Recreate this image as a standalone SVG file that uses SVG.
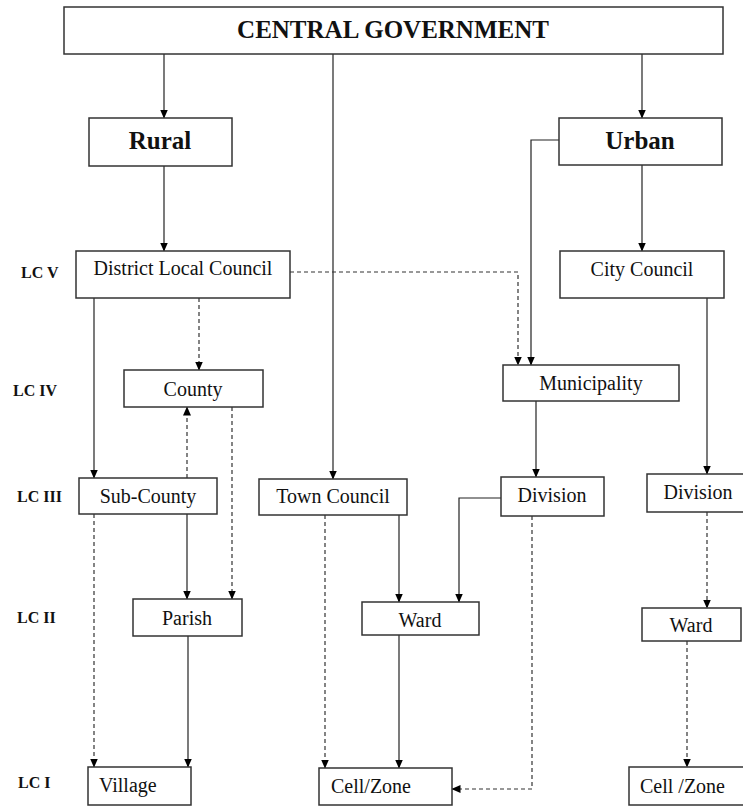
<svg xmlns="http://www.w3.org/2000/svg" width="743" height="807" viewBox="0 0 743 807">
<style>
.box{fill:#fff;stroke:#333;stroke-width:1.5}
.t{font-family:"Liberation Serif","Times New Roman",serif;font-size:20px;fill:#111}
.tb{font-family:"Liberation Serif","Times New Roman",serif;font-weight:bold;font-size:25px;fill:#111;text-anchor:middle}
.c{text-anchor:middle}
.lc{font-family:"Liberation Serif","Times New Roman",serif;font-weight:bold;font-size:16px;fill:#111}
.s{fill:none;stroke:#222;stroke-width:1.2}
.d{fill:none;stroke:#333;stroke-width:1.2;stroke-dasharray:4 3}
</style>
<defs>
<marker id="ah" markerWidth="9" markerHeight="8" refX="8.5" refY="4" orient="auto" markerUnits="userSpaceOnUse">
<path d="M0,0 L9,4 L0,8 z" fill="#000"/>
</marker>
</defs>
<rect width="743" height="807" fill="#fff"/>
<g id="lc-labels">
<text class="lc" x="21" y="278">LC V</text>
<text class="lc" x="13" y="396">LC IV</text>
<text class="lc" x="17" y="502">LC III</text>
<text class="lc" x="17" y="623">LC II</text>
<text class="lc" x="18" y="788">LC I</text>
</g>
<g id="connectors" marker-end="url(#ah)">
<path class="s" d="M164 54 V118"/>
<path class="s" d="M333 54 V479"/>
<path class="s" d="M642 54 V118"/>
<path class="s" d="M164 166 V251"/>
<path class="s" d="M559 140 H531 V365"/>
<path class="s" d="M642 165 V251"/>
<path class="d" d="M290 272 H518 V365"/>
<path class="d" d="M199 298 V370"/>
<path class="s" d="M94 298 V478"/>
<path class="d" d="M187 478 V407"/>
<path class="d" d="M232 407 V599"/>
<path class="s" d="M536 401 V477"/>
<path class="s" d="M707 298 V474"/>
<path class="s" d="M187 514 V599"/>
<path class="d" d="M94 514 V767"/>
<path class="d" d="M325 515 V768"/>
<path class="s" d="M399 515 V602"/>
<path class="s" d="M501 498 H459 V602"/>
<path class="d" d="M532 516 V789 H452"/>
<path class="d" d="M707 512 V608"/>
<path class="s" d="M188 636 V767"/>
<path class="s" d="M399 635 V768"/>
<path class="d" d="M687 641 V767"/>
</g>
<g id="central-government">
<rect class="box" x="64" y="7" width="659" height="47"/>
<text class="tb" x="393" y="38">CENTRAL GOVERNMENT</text>
</g>
<g id="rural">
<rect class="box" x="89" y="118" width="143" height="48"/>
<text class="tb" x="160" y="149">Rural</text>
</g>
<g id="urban">
<rect class="box" x="559" y="118" width="163" height="47"/>
<text class="tb" x="640" y="149">Urban</text>
</g>
<g id="district-local-council">
<rect class="box" x="76" y="251" width="214" height="47"/>
<text class="t c" x="183" y="275">District Local Council</text>
</g>
<g id="city-council">
<rect class="box" x="560" y="251" width="164" height="47"/>
<text class="t c" x="642" y="276">City Council</text>
</g>
<g id="county">
<rect class="box" x="124" y="370" width="139" height="37"/>
<text class="t c" x="193" y="396">County</text>
</g>
<g id="municipality">
<rect class="box" x="503" y="365" width="176" height="36"/>
<text class="t c" x="591" y="390">Municipality</text>
</g>
<g id="sub-county">
<rect class="box" x="79" y="478" width="138" height="36"/>
<text class="t c" x="148" y="503">Sub-County</text>
</g>
<g id="town-council">
<rect class="box" x="259" y="479" width="148" height="36"/>
<text class="t c" x="333" y="503">Town Council</text>
</g>
<g id="division-municipal">
<rect class="box" x="501" y="477" width="103" height="39"/>
<text class="t c" x="552" y="502">Division</text>
</g>
<g id="division-city">
<rect class="box" x="647" y="474" width="104" height="38"/>
<text class="t c" x="698" y="499">Division</text>
</g>
<g id="parish">
<rect class="box" x="133" y="599" width="109" height="37"/>
<text class="t c" x="187" y="625">Parish</text>
</g>
<g id="ward-town">
<rect class="box" x="362" y="602" width="117" height="33"/>
<text class="t c" x="420" y="627">Ward</text>
</g>
<g id="ward-city">
<rect class="box" x="642" y="608" width="99" height="33"/>
<text class="t c" x="691" y="632">Ward</text>
</g>
<g id="village">
<rect class="box" x="88" y="767" width="103" height="38"/>
<text class="t" x="99" y="792">Village</text>
</g>
<g id="cell-zone-town">
<rect class="box" x="319" y="768" width="133" height="37"/>
<text class="t" x="331" y="793">Cell/Zone</text>
</g>
<g id="cell-zone-city">
<rect class="box" x="629" y="767" width="120" height="38"/>
<text class="t" x="640" y="793">Cell /Zone</text>
</g>
</svg>
